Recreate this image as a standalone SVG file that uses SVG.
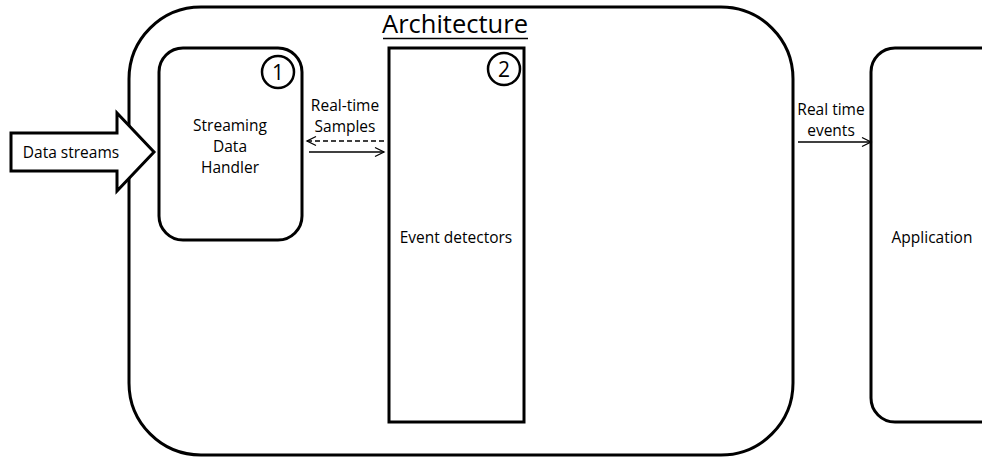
<svg xmlns="http://www.w3.org/2000/svg" width="982" height="457" viewBox="0 0 982 457">
  <style>
    .box { fill: #fff; stroke: #000; stroke-width: 3; }
    .lbl { font-family: "Open Sans", "Liberation Sans", sans-serif; font-size: 15.5px; fill: #000; text-anchor: middle; }
    .num { font-family: "Open Sans", "Liberation Sans", sans-serif; font-size: 21px; fill: #000; text-anchor: middle; }
    .link { fill: none; stroke: #000; stroke-width: 1.3; }
  </style>
  <defs>
    <marker id="open-arrow" markerWidth="12" markerHeight="12" refX="10" refY="6" orient="auto-start-reverse" markerUnits="userSpaceOnUse">
      <path d="M1,1.5 L10,6 L1,10.5" fill="none" stroke="#000" stroke-width="1.3"/>
    </marker>
  </defs>

  <rect width="982" height="457" fill="#fff"/>

  <!-- Outer container -->
  <g id="architecture">
    <rect class="box" x="129" y="7" width="664" height="448" rx="72" ry="72"/>
    <text x="455" y="33" style="font-family:'Open Sans','Liberation Sans',sans-serif;font-size:25.5px;text-anchor:middle">Architecture</text>
    <line x1="383" y1="38.5" x2="528" y2="38.5" stroke="#000" stroke-width="1.5"/>
  </g>

  <!-- Input block arrow -->
  <g id="data-streams">
    <path class="box" d="M11,133 L117,133 L117,113 L154,152 L117,191 L117,171 L11,171 Z"/>
    <text class="lbl" x="71" y="158">Data streams</text>
  </g>

  <!-- Component 1 -->
  <g id="streaming-data-handler">
    <rect class="box" x="159" y="48" width="143" height="192" rx="24" ry="24"/>
    <circle cx="278" cy="72" r="16" fill="none" stroke="#000" stroke-width="2.5"/>
    <text class="num" x="278" y="79.5">1</text>
    <text class="lbl" x="230" y="130.5">Streaming</text>
    <text class="lbl" x="230" y="151.5">Data</text>
    <text class="lbl" x="230" y="172.5">Handler</text>
  </g>

  <!-- Component 2 -->
  <g id="event-detectors">
    <rect class="box" x="389" y="48" width="135" height="374"/>
    <circle cx="504" cy="69" r="16" fill="none" stroke="#000" stroke-width="2.5"/>
    <text class="num" x="504" y="76.5">2</text>
    <text class="lbl" x="456" y="242.5">Event detectors</text>
  </g>

  <!-- Consumer -->
  <g id="application">
    <rect class="box" x="871" y="48" width="140" height="374" rx="24" ry="24"/>
    <text class="lbl" x="932" y="242.5">Application</text>
  </g>

  <!-- Connectors -->
  <g id="connectors">
    <line class="link" x1="384" y1="141" x2="307" y2="141" stroke-dasharray="5,3" marker-end="url(#open-arrow)"/>
    <line class="link" x1="309" y1="152" x2="384" y2="152" marker-end="url(#open-arrow)"/>
    <text class="lbl" x="345" y="110.5">Real-time</text>
    <text class="lbl" x="345" y="131.5">Samples</text>

    <line class="link" x1="798" y1="142" x2="871" y2="142" marker-end="url(#open-arrow)"/>
    <text class="lbl" x="831" y="114.5">Real time</text>
    <text class="lbl" x="831" y="135.5">events</text>
  </g>
</svg>
